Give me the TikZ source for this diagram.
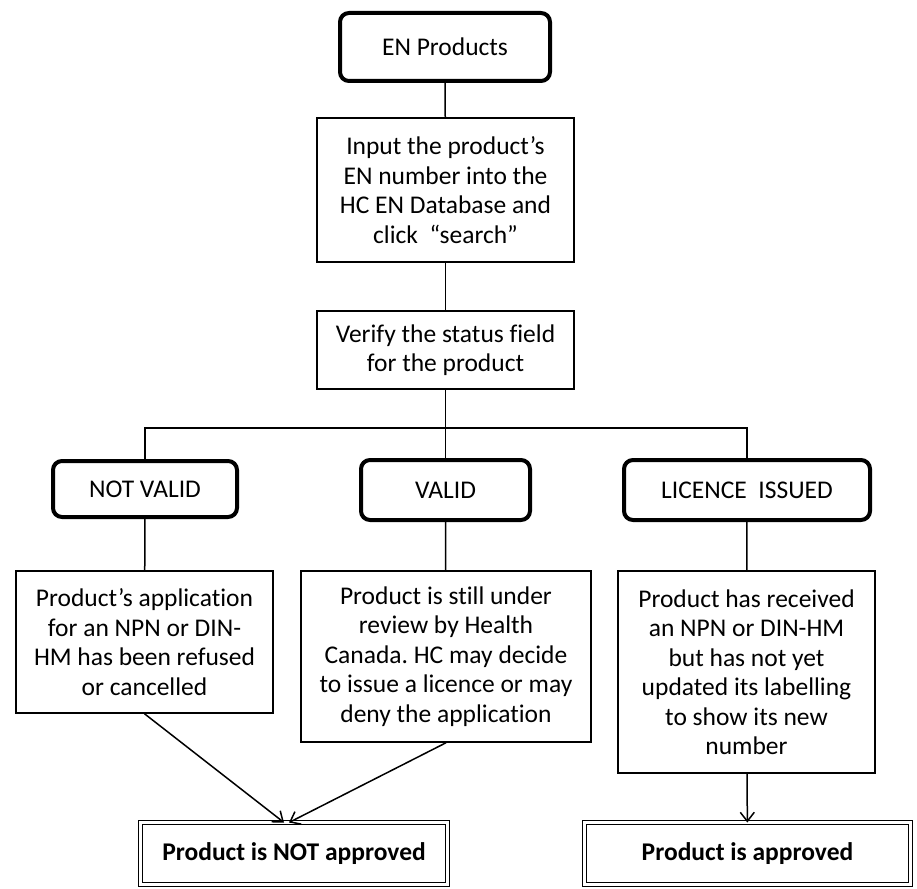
\documentclass[tikz,border=0pt]{standalone}
\usepackage{fontspec}
\setmainfont{Carlito}[Ligatures=NoCommon]
\usetikzlibrary{arrows.meta,positioning,calc}
\frenchspacing
\newcommand\boxfont{\fontsize{25.5}{29.5}\selectfont}
\tikzset{headbox/.style={draw,line width=4pt,rounded corners=9pt,align=center,inner sep=0pt},
  textbox/.style={draw,line width=1.5pt,align=center,inner sep=0pt},
  endbox/.style={draw,double,line width=1pt,double distance=3pt,align=center,font=\boxfont\bfseries,inner sep=0pt,outer sep=0pt},
  link/.style={line width=1.5pt},
  arr/.style={link,-{Straight Barb[length=9pt,width=14pt]}}}

\begin{document}
\begin{tikzpicture}[x=1pt,y=-1pt,font=\boxfont]
\useasboundingbox (0,0) rectangle (917,888);
\node[headbox,minimum width=210,minimum height=68] (en) at (445,47) {EN Products};
\node[textbox,minimum width=257,minimum height=144] (input) at (445.5,190) {Input the product’s\\EN number into the\\HC EN Database and\\click \ “search”};
\node[textbox,minimum width=257,minimum height=78] (verify) at (445.5,350) {Verify the status field\\for the product};
\coordinate (branch) at (445.5,428);
\node[headbox,minimum width=184,minimum height=56] (notvalid) at (145,489) {NOT VALID};
\node[headbox,minimum width=169,minimum height=60] (valid) at (445.5,490) {VALID};
\node[headbox,minimum width=246,minimum height=60] (licence) at (747,490) {LICENCE\ \ ISSUED};
\node[textbox,minimum width=257,minimum height=142] (nvdesc) at (144.5,642) {Product’s application\\for an NPN or DIN-\\HM has been refused\\or cancelled};
\node[textbox,minimum width=290,minimum height=171] (vdesc) at (446,656.5) {Product is still under\\review by Health\\Canada. HC may decide\\to issue a licence or may\\deny the application};
\node[textbox,minimum width=257,minimum height=202] (lidesc) at (746.5,672) {Product has received\\an NPN or DIN-HM\\but has not yet\\updated its labelling\\to show its new\\number};
\node[endbox,minimum width=307,minimum height=62] (notok) at (294,853.5) {Product is NOT approved};
\node[endbox,minimum width=326,minimum height=62] (ok) at (747.5,853.5) {Product is approved};
% connectors
\draw[link] (en) -- (input);
\draw[link] (input) -- (verify);
\draw[link] (verify) -- (valid);
\draw[link] (notvalid.north) |- (branch) -| (licence.north);
\draw[link] (notvalid) -- (nvdesc);
\draw[link] (valid) -- (vdesc);
\draw[link] (licence) -- (lidesc);
\draw[arr] (nvdesc.south) -- ([xshift=-10]notok.north);
\draw[arr] (vdesc.south) -- ([xshift=-5]notok.north);
\draw[arr] (lidesc) -- (ok);
\end{tikzpicture}
\end{document}
